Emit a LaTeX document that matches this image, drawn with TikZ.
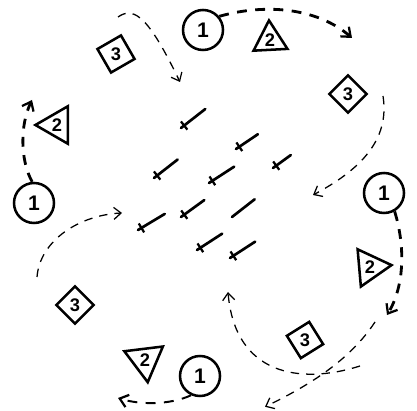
\documentclass[tikz,border=0pt]{standalone}
\usepackage{fontspec}
\setmainfont{Liberation Sans}
\usetikzlibrary{shapes.geometric,arrows.meta}

\tikzset{
    one/.style={circle, draw, line width=1.8pt, minimum size=1cm, inner sep=0pt,
        font=\fontsize{15}{15}\selectfont\bfseries},
    two/.style={regular polygon, regular polygon sides=3, draw, line width=1.8pt,
        minimum size=1.08cm, inner sep=0pt, font=\fontsize{13}{13}\selectfont\bfseries},
    three/.style={regular polygon, regular polygon sides=4, draw, line width=1.8pt,
        minimum size=0.93cm, inner sep=0pt, font=\fontsize{13}{13}\selectfont\bfseries},
    light/.style={line width=0.9pt, dash pattern=on 6pt off 5pt,
        -{Straight Barb[length=1.8mm,width=3mm]}},
    heavy/.style={line width=2pt, dash pattern=on 7pt off 6pt,
        -{Straight Barb[length=2mm,width=3.2mm,line width=1.6pt]}},
    stick/.style={line width=1.9pt, line cap=round}
}

\begin{document}
\begin{tikzpicture}[scale=1]
    \useasboundingbox (0,0) rectangle (10.425,10.25);

    % players
    \node[one] (c1top) at (5.075,9.5) {1};
    \node[one] (c1left) at (0.85,5.175) {1};
    \node[one] (c1right) at (9.6,5.425) {1};
    \node[one] (c1bot) at (5.0,0.85) {1};

    \node[two, regular polygon rotate=3, minimum size=0.98cm] (t2top) at (6.75,9.25) {2};
    \node[two, regular polygon rotate=90] (t2left) at (1.425,7.125) {2};
    \node[two, regular polygon rotate=-85] (t2right) at (9.25,3.575) {2};
    \node[two, regular polygon rotate=187, minimum size=1.12cm] (t2bot) at (3.625,1.25) {2};

    \node[three, regular polygon rotate=30, minimum size=0.96cm] (s3tl) at (2.9,8.9) {3};
    \node[three, regular polygon rotate=45] (s3right) at (8.7,7.9) {3};
    \node[three, regular polygon rotate=45] (s3left) at (1.875,2.625) {3};
    \node[three, regular polygon rotate=32] (s3br) at (7.625,1.75) {3};

    % sticks
    \foreach \x/\y/\a/\l in {4.525/7.05/38/0.77, 5.9/6.525/34/0.66, 6.825/6.05/36/0.55,
        3.85/5.8/38/0.75, 5.225/5.675/33/0.75, 3.45/4.5/31/0.78, 4.525/4.825/36/0.72,
        4.925/4.0/33/0.75, 5.75/3.8/33/0.75} {
        \draw[stick] (\x,\y) -- ++(\a:\l);
        \draw[line width=1.6pt] (\x,\y) ++(\a:0.1) ++(\a+90:0.13) -- ++(\a-90:0.26);
    }
    \draw[stick] (5.8,4.825) -- ++(38:0.72);

    % runs
    \coordinate (toptip) at (8.8,9.3);
    \coordinate (nwstart) at (2.95,9.825);
    \coordinate (nwtip) at (4.5,8.2);
    \coordinate (nestart) at (9.575,7.85);
    \coordinate (netip) at (7.825,5.375);
    \coordinate (etip) at (9.675,2.375);
    \coordinate (sestart) at (9.375,2.2);
    \coordinate (setip) at (6.625,0.08);
    \coordinate (sstart) at (9.0,1.1);
    \coordinate (stip) at (5.7,2.95);
    \coordinate (wstart) at (0.925,3.325);
    \coordinate (wtip) at (3.05,4.925);
    \coordinate (ltip) at (0.8,7.75);
    \coordinate (swtip) at (2.95,0.3);

    \draw[heavy] (c1top.40) .. controls (6.75,10.2) and (8.0,10.0) .. (toptip);
    \draw[light] (nwstart) .. controls (3.375,10.125) and (3.75,9.75) .. (nwtip);
    \draw[light] (nestart) .. controls (9.75,6.75) and (9.0,6.0) .. (netip);
    \draw[heavy] (c1right.-60) .. controls (10.125,4.125) and (10.125,3.125) .. (etip);
    \draw[light] (sestart) .. controls (8.75,1.25) and (7.75,0.625) .. (setip);
    \draw[light] (sstart) .. controls (7.5,0.625) and (5.875,0.875) .. (stip);
    \draw[light] (wstart) .. controls (1.0,4.25) and (2.0,4.875) .. (wtip);
    \draw[heavy] (c1left.95) .. controls (0.5,6.25) and (0.5,7.125) .. (ltip);
    \draw[heavy, line width=1.4pt] (c1bot.-115) .. controls (4.25,0.125) and (3.5,0.125) .. (swtip);
\end{tikzpicture}
\end{document}
